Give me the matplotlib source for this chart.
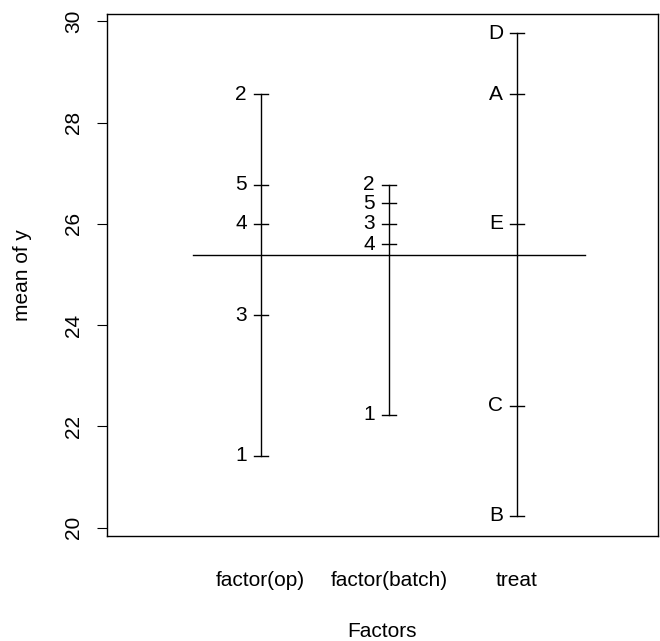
import numpy as np
import matplotlib
matplotlib.use("Agg")
import matplotlib.pyplot as plt

plt.rcParams["font.family"] = ["Liberation Sans", "DejaVu Sans"]

factors = ["factor(op)", "factor(batch)", "treat"]
op_levels = ["1", "2", "3", "4", "5"]
op_means = [21.42, 28.56, 24.20, 26.00, 26.77]
batch_levels = ["1", "2", "3", "4", "5"]
batch_means = [22.23, 26.77, 26.00, 25.60, 26.41]
treat_levels = ["A", "B", "C", "D", "E"]
treat_means = [28.56, 20.24, 22.41, 29.76, 26.00]
grand_mean = 25.39

groups = [
    (op_levels, op_means),
    (batch_levels, batch_means),
    (treat_levels, treat_means),
]

FS = 15

fig = plt.figure(figsize=(6.6, 6.41), dpi=100)
ax = fig.add_axes([0.162, 0.164, 0.835, 0.814])

for i, (levels, means) in enumerate(groups, start=1):
    ax.plot([i, i], [min(means), max(means)], color="black", lw=1)
    for lab, m in zip(levels, means):
        ax.plot([i - 0.055, i + 0.055], [m, m], color="black", lw=1)
        ax.annotate(lab, (i, m), xytext=(-14, 0), textcoords="offset pixels",
                    ha="right", va="center", fontsize=FS)

ax.plot([0.47, 3.53], [grand_mean, grand_mean], color="black", lw=1)

ax.set_xlim(-0.2, 4.1)
ax.set_ylim(19.84, 30.14)
ax.set_xticks([1, 2, 3])
ax.set_xticklabels(factors, fontsize=FS)
ax.tick_params(axis="x", length=0, pad=25)
ax.set_yticks([20, 22, 24, 26, 28, 30])
ax.set_yticklabels(["20", "22", "24", "26", "28", "30"], rotation=90,
                   va="center", fontsize=FS)
ax.tick_params(axis="y", length=7.2, pad=10)
for s in ax.spines.values():
    s.set_linewidth(1)

ax.set_xlabel("Factors", fontsize=FS, va="center")
ax.xaxis.set_label_coords(0.5, -0.184)
ax.set_ylabel("mean of y", fontsize=FS, va="center")
ax.yaxis.set_label_coords(-0.154, 0.5)

fig.savefig("out.png", dpi=100, facecolor="white")
